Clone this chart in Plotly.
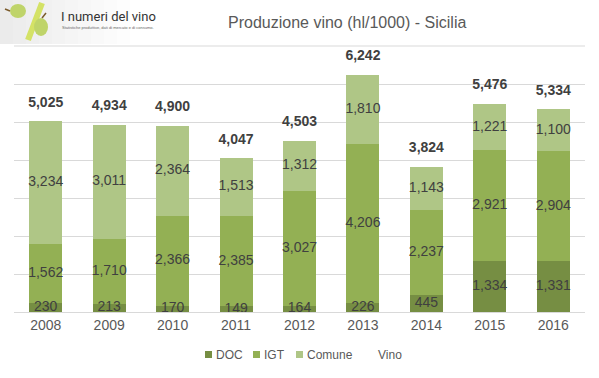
import plotly.graph_objects as go

years = ["2008", "2009", "2010", "2011", "2012", "2013", "2014", "2015", "2016"]
doc = [230, 213, 170, 149, 164, 226, 445, 1334, 1331]
igt = [1562, 1710, 2366, 2385, 3027, 4206, 2237, 2921, 2904]
comune = [3234, 3011, 2364, 1513, 1312, 1810, 1143, 1221, 1100]
vino = [5025, 4934, 4900, 4047, 4503, 6242, 3824, 5476, 5334]

C_DOC = "#768E43"
C_IGT = "#93B054"
C_COM = "#AFC686"
TXT = "#404040"
FONT = "Liberation Sans, Arial, sans-serif"

# plot area in pixels
PL, PR, PT, PB = 14, 585, 46, 312
PW, PH = PR - PL, PB - PT

def px(x):
    return (x - PL) / PW

def py(y):
    return (PB - y) / PH

def fmt(v):
    return f"{v:,}"

fig = go.Figure()
for name, vals, col in [("DOC", doc, C_DOC), ("IGT", igt, C_IGT), ("Comune", comune, C_COM)]:
    fig.add_trace(go.Bar(x=years, y=vals, name=name, marker=dict(color=col, line=dict(width=0)),
                         hoverinfo="skip", showlegend=False))

# segment labels at the middle of each stacked segment
mid_doc = [d / 2 for d in doc]
mid_igt = [d + i / 2 for d, i in zip(doc, igt)]
mid_com = [d + i + c / 2 for d, i, c in zip(doc, igt, comune)]
for mids, vals in [(mid_doc, doc), (mid_igt, igt), (mid_com, comune)]:
    fig.add_trace(go.Scatter(x=years, y=mids, mode="text", text=[fmt(v) for v in vals],
                             textposition="middle center",
                             textfont=dict(family=FONT, size=14, color=TXT),
                             showlegend=False, hoverinfo="skip", cliponaxis=False))

# totals (Vino) - invisible marker pushes the label above the bar
fig.add_trace(go.Scatter(x=years, y=vino, mode="markers+text", name="Vino",
                         text=["<b>" + fmt(v) + "</b>" for v in vino],
                         textposition="top center",
                         marker=dict(size=16, color="rgba(0,0,0,0)"),
                         textfont=dict(family=FONT, size=14, color=TXT),
                         showlegend=False, hoverinfo="skip", cliponaxis=False))

annotations = []
shapes = []
# top gridline at 7000
shapes.append(dict(type="line", xref="paper", yref="paper", x0=0, x1=1, y0=1, y1=1,
                   line=dict(color="#D9D9D9", width=1), layer="below"))
# header gradient backdrop (approximation)
for i in range(10):
    shapes.append(dict(type="rect", xref="paper", yref="paper",
                       x0=px(0), x1=px(0 + (10 - i) * 13), y0=py(44), y1=py(0),
                       fillcolor="rgba(210,210,210,0.05)", line=dict(width=0), layer="below"))
# logo slash
shapes.append(dict(type="line", xref="paper", yref="paper",
                   x0=px(28), y0=py(40), x1=px(42), y1=py(3),
                   line=dict(color="#D4E266", width=6)))

def ell(cx, cy, rx, ry, col):
    return dict(type="circle", xref="paper", yref="paper",
                x0=px(cx - rx), x1=px(cx + rx), y0=py(cy + ry), y1=py(cy - ry),
                fillcolor=col, line=dict(width=0))

shapes.append(ell(18, 11, 8, 7, "#BFD46A"))
shapes.append(ell(41, 27, 7, 9, "#BFD46A"))
shapes.append(dict(type="line", xref="paper", yref="paper",
                   x0=px(5), y0=py(9), x1=px(10), y1=py(11),
                   line=dict(color="#7A5A2A", width=1.5)))
shapes.append(dict(type="line", xref="paper", yref="paper",
                   x0=px(42), y0=py(18), x1=px(46), y1=py(13),
                   line=dict(color="#7A5A2A", width=1.5)))

annotations += [
    dict(text="I numeri del vino", xref="paper", yref="paper",
         x=px(59), y=py(16), xanchor="left", yanchor="middle",
         showarrow=False, font=dict(family="Roboto, Liberation Sans", size=13, color="#333333")),
    dict(text="Statistiche produttive, dati di mercato e di consumo.", xref="paper", yref="paper",
         x=px(60), y=py(27), xanchor="left", yanchor="middle",
         showarrow=False, font=dict(family="Liberation Sans", size=4, color="#666666")),
    dict(text="Produzione vino (hl/1000) - Sicilia", xref="paper", yref="paper",
         x=px(347), y=py(22), xanchor="center", yanchor="middle",
         showarrow=False, font=dict(family="Liberation Sans", size=16, color="#595959")),
]

# manual legend
legend_items = [("DOC", C_DOC, 205), ("IGT", C_IGT, 253), ("Comune", C_COM, 296), ("Vino", None, 367)]
for name, col, x0 in legend_items:
    if col:
        shapes.append(dict(type="rect", xref="paper", yref="paper",
                           x0=px(x0), x1=px(x0 + 7), y0=py(358), y1=py(351),
                           fillcolor=col, line=dict(width=0)))
    annotations.append(dict(text=name, xref="paper", yref="paper", x=px(x0 + 9), y=py(355),
                            xanchor="left", yanchor="middle", showarrow=False,
                            font=dict(family=FONT, size=12, color="#595959")))

fig.update_layout(
    width=599, height=378,
    margin=dict(l=PL, r=599 - PR, t=PT, b=378 - PB, pad=0, autoexpand=False),
    barmode="stack", bargap=0.48,
    paper_bgcolor="white", plot_bgcolor="white",
    font=dict(family=FONT, color="#595959"),
    showlegend=False,
    xaxis=dict(type="category", range=[-0.5, 8.5], showgrid=False, showline=True,
               linecolor="#D9D9D9", linewidth=1,
               ticks="", tickfont=dict(family=FONT, size=14, color="#595959")),
    yaxis=dict(range=[0, 7000], dtick=1000, showgrid=True, gridcolor="#D9D9D9", gridwidth=1,
               showticklabels=False, zeroline=False, showline=False),
    shapes=shapes, annotations=annotations,
)

fig.write_html("out.html", config={"displayModeBar": False},
               post_script="document.body.style.margin='0';document.body.style.overflow='hidden';")
